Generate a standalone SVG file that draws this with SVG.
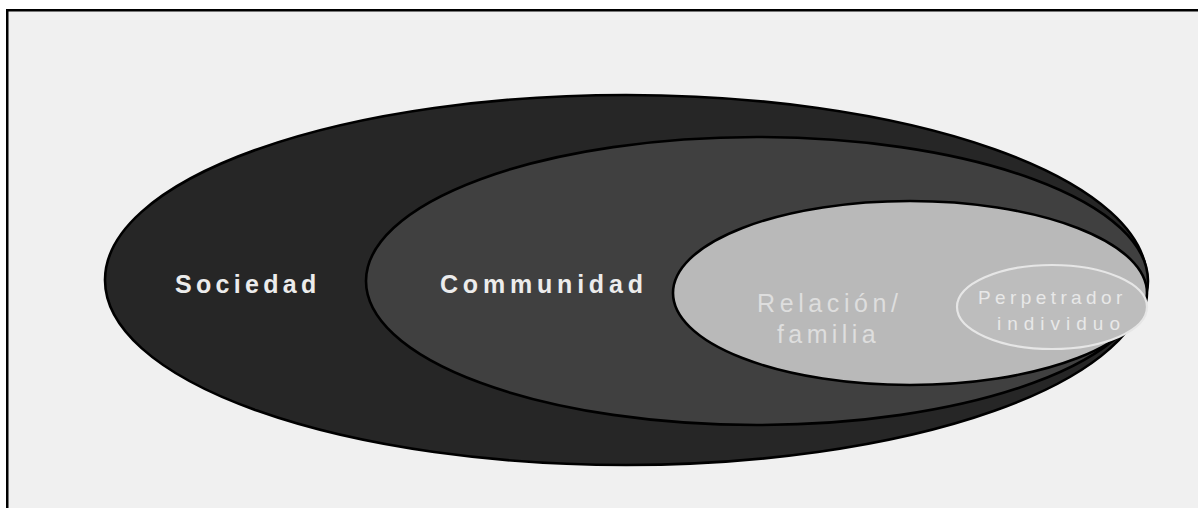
<svg xmlns="http://www.w3.org/2000/svg" width="1198" height="508" viewBox="0 0 1198 508">
<style>
.lvl{stroke:#000;stroke-width:2.6}
.dark{font-family:"Liberation Sans",Arial,sans-serif;font-weight:bold;font-size:25px;fill:#ececec}
.light{font-family:"Liberation Sans",Arial,sans-serif;font-size:25px;fill:#dedede}
.small{font-family:"Liberation Sans",Arial,sans-serif;font-size:19px;fill:#e8e8e8}
</style>
<rect x="0" y="0" width="1198" height="508" fill="#ffffff"/>
<rect x="7" y="10" width="1191" height="498" fill="#f0f0f0"/>
<rect x="6" y="9" width="1192" height="2.5" fill="#000"/>
<rect x="6" y="9" width="2.5" height="499" fill="#000"/>
<g id="sociedad">
<ellipse class="lvl" cx="626" cy="280" rx="521" ry="185" fill="#262626"/>
<text class="dark" x="175" y="293" letter-spacing="4.3">Sociedad</text>
</g>
<g id="comunidad">
<ellipse class="lvl" cx="757" cy="281" rx="391" ry="144" fill="#404040"/>
<text class="dark" x="440" y="293" letter-spacing="4.8">Communidad</text>
</g>
<g id="relacion">
<ellipse class="lvl" cx="910" cy="293" rx="237" ry="92" fill="#b9b9b9"/>
<text class="light" x="757" y="312" letter-spacing="4.6">Relación/</text>
<text class="light" x="777" y="343" letter-spacing="4.4">familia</text>
</g>
<g id="individuo">
<ellipse cx="1052" cy="307" rx="95" ry="42" fill="#bdbdbd" stroke="#e6e6e6" stroke-width="2.2"/>
<text class="small" x="978" y="304" letter-spacing="4.4">Perpetrador</text>
<text class="small" x="997" y="330" letter-spacing="6">individuo</text>
</g>
<g id="connectors"/>
</svg>
